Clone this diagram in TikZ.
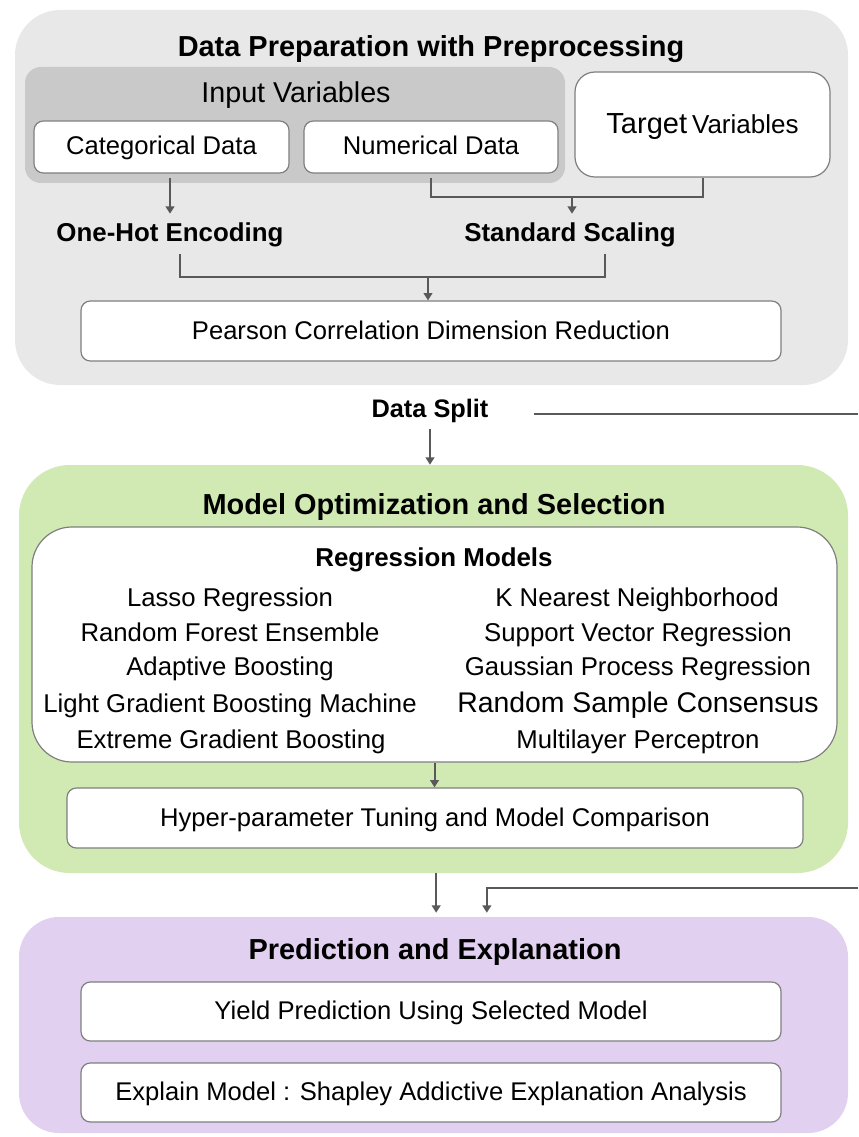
\documentclass[tikz,border=0pt]{standalone}
\usepackage{fontspec}
\setmainfont{Liberation Sans}
\usetikzlibrary{arrows.meta}
\definecolor{prepc}{HTML}{E8E8E8}
\definecolor{inpc}{HTML}{C9C9C9}
\definecolor{greenc}{HTML}{D1EAB3}
\definecolor{purpc}{HTML}{E2D0F1}
\definecolor{bordc}{HTML}{7F7F7F}
\definecolor{arrc}{HTML}{595959}
\tikzset{
  panel/.style={draw=none, inner sep=0pt},
  wbox/.style={draw=bordc, line width=0.9pt, fill=white, rounded corners=7pt, inner sep=0pt},
  txt/.style={font=\fontsize{19.2pt}{23pt}\selectfont, text height=15pt, text depth=3pt},
  mdl/.style={font=\fontsize{19.3pt}{23pt}\selectfont, inner sep=0pt, text height=15pt, text depth=3pt},
  ttl/.style={font=\fontsize{21.7pt}{26pt}\selectfont\bfseries, inner sep=0pt, text height=17pt, text depth=3.4pt},
  lbl/.style={font=\fontsize{19.4pt}{23pt}\selectfont\bfseries, inner xsep=2pt, inner ysep=6pt, text height=15pt, text depth=3pt},
  conn/.style={draw=arrc, line width=1.5pt},
  arr/.style={conn, -{Triangle[width=6.5pt,length=5.5pt]}},
}
\begin{document}
\begin{tikzpicture}[x=0.75pt,y=-0.75pt]
\useasboundingbox (0,0) rectangle (858,1137);
\fill[white] (0,0) rectangle (858,1137);
% ---------- Data preparation panel ----------
\node[panel, fill=prepc, minimum width=624.75pt, minimum height=281.25pt, rounded corners=34pt] (prep) at (431.5,197.5) {};
\node[ttl] (prept) at (431,47) {Data Preparation with Preprocessing};
\node[panel, fill=inpc, minimum width=405pt, minimum height=87pt, rounded corners=12pt] (input) at (295,125) {};
\node[font=\fontsize{21.5pt}{26pt}\selectfont, inner sep=0pt, text height=17pt, text depth=3.4pt] (inputt) at (296,93) {Input Variables};
\node[wbox, minimum width=191.25pt, minimum height=39pt, txt] (cat) at (161.5,147) {Categorical Data};
\node[wbox, minimum width=190.5pt, minimum height=39pt, txt] (num) at (431,147) {Numerical Data};
\node[wbox, minimum width=191.25pt, minimum height=78.75pt, rounded corners=15pt, text height=17pt, text depth=3.4pt] (target) at (702.5,124.5)
  {{\fontsize{21.75pt}{26pt}\selectfont Target}\hspace{1pt} {\fontsize{19.5pt}{24pt}\selectfont Variables}};
\node[lbl] (onehot) at (170,234) {One-Hot Encoding};
\node[lbl] (scaling) at (570,234) {Standard Scaling};
\node[wbox, minimum width=525pt, minimum height=45pt, txt] (pearson) at (431,331) {Pearson Correlation Dimension Reduction};
% ---------- Data split ----------
\node[lbl, font=\fontsize{19pt}{23pt}\selectfont\bfseries] (split) at (430,409) {Data Split};
% ---------- Model optimization panel ----------
\node[panel, fill=greenc, minimum width=621.75pt, minimum height=306pt, rounded corners=38pt] (green) at (433.5,669) {};
\node[ttl] (greent) at (434,505) {Model Optimization and Selection};
\node[wbox, minimum width=603.75pt, minimum height=176.25pt, rounded corners=30pt] (reg) at (434.5,644.5) {};
\node[lbl] (regt) at (434,558) {Regression Models};
\node[mdl] (m1) at (230,598) {Lasso Regression};
\node[mdl] (m2) at (230,633) {Random Forest Ensemble};
\node[mdl] (m3) at (230,667) {Adaptive Boosting};
\node[mdl] (m4) at (230,704) {Light Gradient Boosting Machine};
\node[mdl] (m5) at (231,740) {Extreme Gradient Boosting};
\node[mdl] (m6) at (637,598) {K Nearest Neighborhood};
\node[mdl] (m7) at (638,633) {Support Vector Regression};
\node[mdl] (m8) at (638,667) {Gaussian Process Regression};
\node[mdl, font=\fontsize{21.3pt}{25pt}\selectfont, text height=16.5pt, text depth=3.3pt] (m9) at (638,704) {Random Sample Consensus};
\node[mdl] (m10) at (638,740) {Multilayer Perceptron};
\node[wbox, minimum width=552pt, minimum height=45pt, txt] (hyper) at (435,818) {Hyper-parameter Tuning and Model Comparison};
% ---------- Prediction panel ----------
\node[panel, fill=purpc, minimum width=621.75pt, minimum height=162pt, rounded corners=30pt] (purple) at (433.5,1025) {};
\node[ttl] (purplet) at (435,950) {Prediction and Explanation};
\node[wbox, minimum width=525pt, minimum height=44.25pt, txt] (yield) at (431,1011.5) {Yield Prediction Using Selected Model};
\node[wbox, minimum width=525pt, minimum height=44.25pt, txt] (explain) at (431,1092.5) {Explain Model : Shapley Addictive Explanation Analysis};
% ---------- Connectors ----------
\coordinate (j1) at (428,277);
\coordinate (j2) at (572,197);
\coordinate (dsA) at (534,414);
\coordinate (dsB) at (858,414);
\coordinate (rB) at (858,888);
\draw[arr, shorten <=3.5pt] (cat.south -| onehot.north) -- (onehot.north);
\draw[conn, shorten <=3pt] (num.south) |- (j2) -| (target.south);
\draw[arr] (j2) -- (j2 |- scaling.north);
\draw[conn] ([xshift=7.5pt]onehot.south) |- (j1) -| ([xshift=26.25pt]scaling.south);
\draw[arr] (j1) -- (j1 |- pearson.north);
\draw[arr] (split.south) -- (split.south |- green.north);
\draw[conn] (dsA) -- (dsB);
\draw[arr] (reg.south) -- (reg.south |- hyper.north);
\draw[arr, shorten >=3pt] ([xshift=2pt]green.south) -- ([xshift=2pt]purple.north);
\draw[arr, shorten >=3pt] (rB) -| ([xshift=40pt]purple.north);
\end{tikzpicture}
\end{document}
